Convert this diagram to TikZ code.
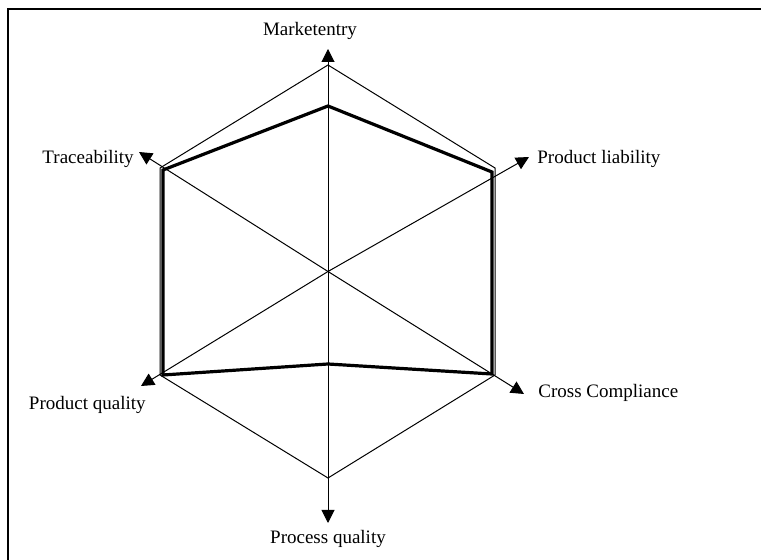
\documentclass[tikz,border=0pt]{standalone}
\usepackage{fontspec}
\setmainfont{Liberation Serif}
\usetikzlibrary{calc}
\usetikzlibrary{positioning}
\usetikzlibrary{arrows.meta}

\begin{document}
\begin{tikzpicture}[
    x = .5pt,
    y = -.5pt,
    font = \fontsize{9.5}{11}\selectfont,
    hexf/.style = {
      draw=black,
      line width=.5pt
    },
    axisf/.style = {
      draw=black,
      line width=.5pt,
      -{Triangle[length=6.5pt,width=6.5pt]}
    },
    valf/.style = {
      draw=black,
      line width=1.6pt,
      line join=miter
    },
    labelf/.style = {
      inner sep=0pt
    }
  ]
    \useasboundingbox (0,0) rectangle (761,560);
    % frame
    \draw[line width=1pt] (8,560) -- (8,9) -- (761,9);

    % centre, corners and arrow ends
    \coordinate (centre) at (328,271.5);
    \coordinate (market) at (328,65);
    \coordinate (liab) at (495,168);
    \coordinate (cross) at (495,375);
    \coordinate (process) at (328,478);
    \coordinate (prodq) at (160,375);
    \coordinate (trace) at (160,168);
    \coordinate (markettip) at (328,49);
    \coordinate (liabtip) at (529,157);
    \coordinate (crosstip) at (524,394);
    \coordinate (processtip) at (328,523);
    \coordinate (prodqtip) at (141,386);
    \coordinate (tracetip) at (139,152);

    % profile
    \coordinate (marketv) at (328,106);
    \coordinate (liabv) at (492,172);
    \coordinate (crossv) at (492,374);
    \coordinate (processv) at (328,364);
    \coordinate (prodqv) at (163,375);
    \coordinate (tracev) at (163,170);

    \draw[hexf] (market) -- (liab) -- (cross) -- (process) -- (prodq) -- (trace) -- cycle;
    \draw[axisf] (centre) -- (markettip);
    \draw[axisf] (centre) -- (liabtip);
    \draw[axisf] (centre) -- (crosstip);
    \draw[axisf] (centre) -- (processtip);
    \draw[axisf] (centre) -- (prodqtip);
    \draw[axisf] (centre) -- (tracetip);
    \draw[valf] (marketv) -- (liabv) -- (crossv) -- (processv) -- (prodqv) -- (tracev) -- cycle;

    \node[labelf] (marketlabel) at (310,31) {Marketentry};
    \node[labelf, anchor=east] (tracelabel) at (134,159) {Traceability};
    \node[labelf, anchor=west] (liablabel) at (537,159) {Product liability};
    \node[labelf, anchor=west] (crosslabel) at (538,393) {Cross Compliance};
    \node[labelf, anchor=east] (prodqlabel) at (146,405) {Product quality};
    \node[labelf] (processlabel) at (328,539) {Process quality};
  \end{tikzpicture}
\end{document}
